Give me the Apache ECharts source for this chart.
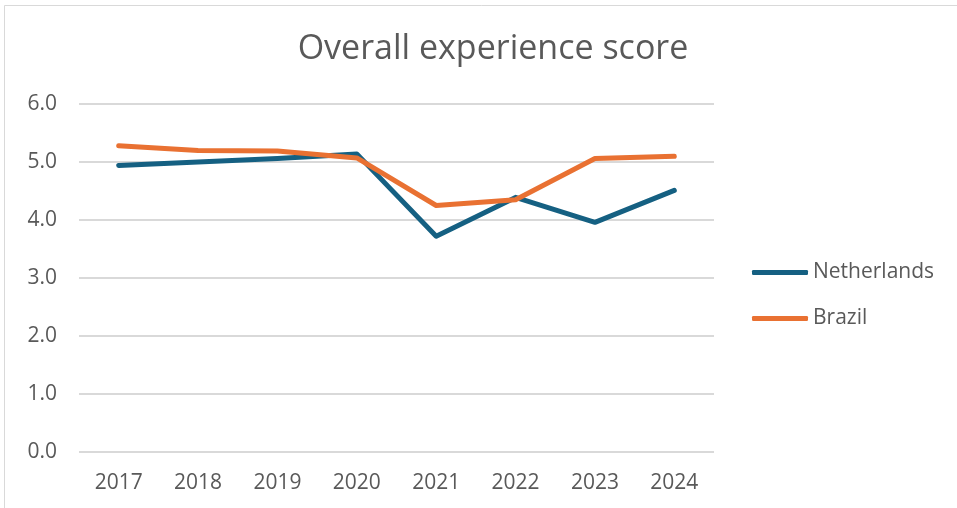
<!DOCTYPE html>
<html>

<head>
    <meta charset="utf-8">
    <title>Overall experience score</title>
    <script src="https://cdn.jsdelivr.net/npm/echarts@6/dist/echarts.min.js"></script>
</head>

<body style="margin:0">
    <div id="main" style="width: 957px;height: 508px;"></div>

    <script type="text/javascript">
        // data
        var years = ['2017', '2018', '2019', '2020', '2021', '2022', '2023', '2024'];
        var netherlands = [4.94, 5.00, 5.06, 5.14, 3.72, 4.39, 3.96, 4.51];
        var brazil = [5.28, 5.20, 5.19, 5.07, 4.25, 4.35, 5.06, 5.10];

        var textColor = '#595959';
        var font = 'Open Sans';

        var myChart = echarts.init(document.getElementById('main'));

        var option = {
            animation: false,
            backgroundColor: '#fff',
            title: {
                text: 'Overall experience score',
                left: 488,
                textAlign: 'center',
                top: 27,
                textStyle: {
                    color: textColor,
                    fontFamily: font,
                    fontSize: 34,
                    fontWeight: 'normal'
                }
            },
            graphic: [{
                type: 'rect',
                shape: { x: 4.5, y: 5.5, width: 1000, height: 600 },
                style: { fill: 'none', stroke: '#d9d9d9', lineWidth: 1 }
            }],
            legend: {
                orient: 'vertical',
                left: 752,
                top: 262,
                padding: 0,
                itemWidth: 56,
                itemHeight: 5,
                itemGap: 25,
                icon: 'roundRect',
                textStyle: {
                    color: textColor,
                    fontFamily: font,
                    fontSize: 21
                },
                data: ['Netherlands', 'Brazil']
            },
            grid: {
                left: 79,
                right: 243,
                top: 104,
                bottom: 56
            },
            xAxis: {
                type: 'category',
                data: years,
                axisLine: { show: false },
                axisTick: { show: false },
                axisLabel: {
                    color: textColor,
                    fontFamily: font,
                    fontSize: 21,
                    margin: 21
                }
            },
            yAxis: {
                type: 'value',
                min: 0,
                max: 6,
                interval: 1,
                axisLabel: {
                    color: textColor,
                    fontFamily: font,
                    fontSize: 21,
                    margin: 22,
                    formatter: function (v) { return v.toFixed(1); }
                },
                splitLine: { lineStyle: { color: '#d9d9d9', width: 2 } }
            },
            series: [{
                name: 'Netherlands',
                type: 'line',
                data: netherlands,
                symbol: 'none',
                color: '#156082',
                lineStyle: { width: 5, cap: 'round', join: 'round' }
            }, {
                name: 'Brazil',
                type: 'line',
                data: brazil,
                symbol: 'none',
                color: '#e97132',
                lineStyle: { width: 5, cap: 'round', join: 'round' }
            }]
        };

        myChart.setOption(option);
    </script>
</body>

</html>
